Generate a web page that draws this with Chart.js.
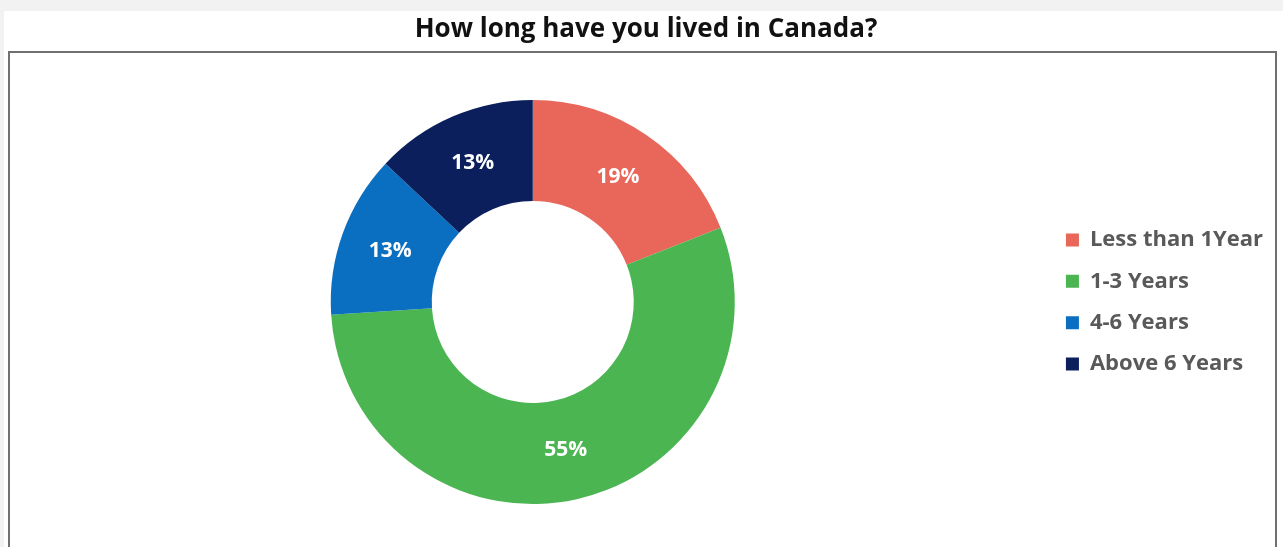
<!DOCTYPE html>
<html>
<head>
<meta charset="utf-8">
<style>
  html, body { margin: 0; padding: 0; background: #f2f2f2; }
  #wrap { position: absolute; left: 0; top: 0; width: 1283px; height: 547px; }
  canvas { display: block; }
</style>
<script src="https://cdn.jsdelivr.net/npm/chart.js@4.4.1/dist/chart.umd.min.js"></script>
</head>
<body>
<div id="wrap"><canvas id="c" width="1283" height="547"></canvas></div>
<script>
const categories = ['Less than 1Year', '1-3 Years', '4-6 Years', 'Above 6 Years'];
const shares = [19, 55, 13, 13];
const sliceColors = ['#E8665A', '#4BB552', '#0B6FC1', '#0A1F5C'];
const chartTitle = 'How long have you lived in Canada?';

// Page frame: grey margin, white sheet and the outlined plot box
const framePlugin = {
  id: 'frame',
  beforeDraw(chart) {
    const ctx = chart.ctx;
    ctx.save();
    ctx.fillStyle = '#f2f2f2';
    ctx.fillRect(0, 0, chart.width, chart.height);
    ctx.fillStyle = '#ffffff';
    ctx.fillRect(4, 11, chart.width - 4, chart.height - 11);
    ctx.strokeStyle = '#707070';
    ctx.lineWidth = 2;
    ctx.strokeRect(9, 52, 1267, chart.height + 10);
    ctx.restore();
  }
};

// Percentage labels at the middle of each ring segment
const sliceLabels = {
  id: 'sliceLabels',
  afterDatasetsDraw(chart) {
    const ctx = chart.ctx;
    const meta = chart.getDatasetMeta(0);
    const values = chart.data.datasets[0].data;
    ctx.save();
    ctx.font = 'bold 21px "Open Sans"';
    ctx.fillStyle = '#ffffff';
    ctx.textAlign = 'center';
    ctx.textBaseline = 'middle';
    meta.data.forEach((arc, i) => {
      const p = arc.tooltipPosition();
      ctx.fillText(values[i] + '%', p.x, p.y);
    });
    ctx.restore();
  }
};

new Chart(document.getElementById('c'), {
  type: 'doughnut',
  data: {
    labels: categories,
    datasets: [{
      data: shares,
      backgroundColor: sliceColors,
      borderWidth: 0,
      hoverOffset: 0
    }]
  },
  options: {
    responsive: false,
    animation: false,
    cutout: '50%',
    layout: { padding: { top: 14, bottom: 43, left: 19, right: 10 } },
    plugins: {
      title: {
        display: true,
        text: chartTitle,
        color: '#111111',
        font: { family: 'Open Sans', size: 26, weight: 'bold', lineHeight: 1.2 },
        padding: { top: 0, bottom: 54.8 }
      },
      legend: {
        position: 'right',
        fullSize: false,
        labels: {
          color: '#595959',
          font: { family: 'Open Sans', size: 22, weight: 'bold' },
          boxWidth: 13,
          boxHeight: 13,
          padding: 19.4
        }
      },
      tooltip: { enabled: false }
    }
  },
  plugins: [framePlugin, sliceLabels]
});
</script>
</body>
</html>
